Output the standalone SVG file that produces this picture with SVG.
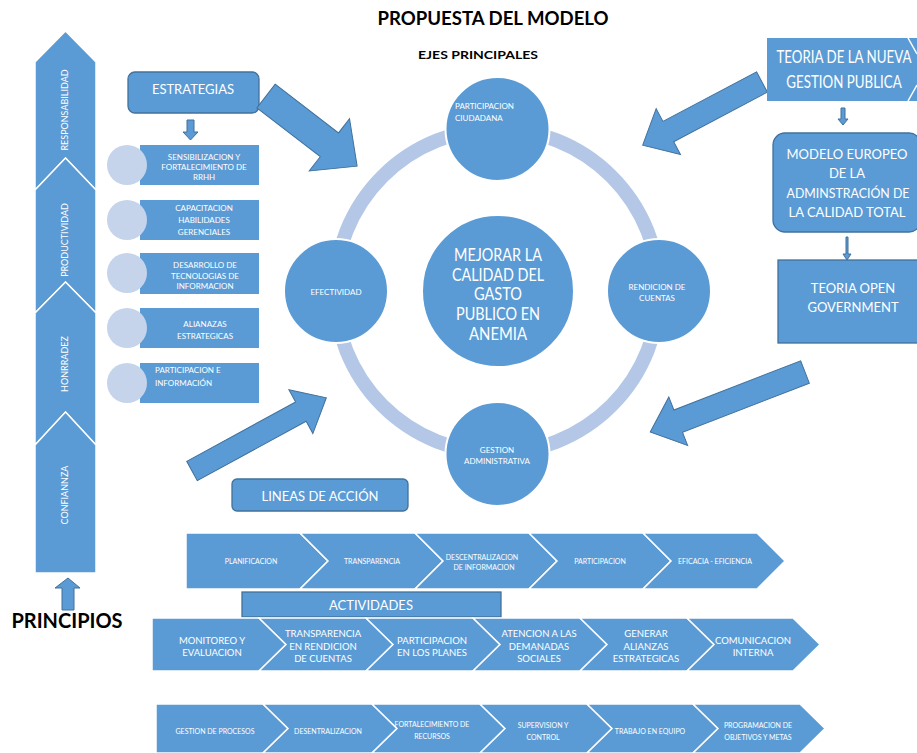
<svg xmlns="http://www.w3.org/2000/svg" width="917" height="753" viewBox="0 0 917 753">
<style>
text{font-family:Lato,"Liberation Sans",sans-serif;fill:#fff;text-anchor:middle}
.blk{fill:#000;font-weight:bold}
.seg{fill:#5b9bd5;stroke:#fff;stroke-width:1.5}
.box{fill:#5b9bd5;stroke:#41719c;stroke-width:1.3}
.plain{fill:#5b9bd5}
.node{fill:#5b9bd5;stroke:#fff;stroke-width:2}
.lc{fill:#c5d4ea}
.arr{fill:#5b9bd5;stroke:#41719c;stroke-width:1}
.s7{font-size:7px}
.s8{font-size:8px}
.s9{font-size:9.5px}
.v{font-size:9px}
</style>
<rect width="917" height="753" fill="#fff"/>
<text x="493" y="25" class="blk" font-size="18" textLength="231" lengthAdjust="spacingAndGlyphs">PROPUESTA DEL MODELO</text>
<text x="478" y="59" class="blk" font-size="12" textLength="120" lengthAdjust="spacingAndGlyphs">EJES PRINCIPALES</text>

<!-- Principles column -->
<g id="responsabilidad"><polygon class="seg" points="65.5,31 96,62 96,190 65.5,158 35,190 35,62"/><text class="v" transform="translate(68,110) rotate(-90)">RESPONSABILIDAD</text></g>
<g id="productividad"><polygon class="seg" points="65.5,158 96,190 96,313 65.5,282 35,313 35,190"/><text class="v" transform="translate(68,240) rotate(-90)">PRODUCTIVIDAD</text></g>
<g id="honrradez"><polygon class="seg" points="65.5,282 96,313 96,445 65.5,412 35,445 35,313"/><text class="v" transform="translate(68,364) rotate(-90)">HONRRADEZ</text></g>
<g id="confiannza"><polygon class="seg" points="65.5,412 96,445 96,573 35,573 35,445"/><text class="v" transform="translate(68,495) rotate(-90)">CONFIANNZA</text></g>
<g id="principios"><polygon class="arr" points="68,578 80,588 74,588 74,610 62,610 62,588 55,588"/><text x="67" y="628" class="blk" font-size="21" textLength="111" lengthAdjust="spacingAndGlyphs">PRINCIPIOS</text></g>

<!-- Estrategias -->
<g id="estrategias"><rect class="box" x="128" y="72" width="131" height="41" rx="7"/><text x="193" y="94" font-size="13">ESTRATEGIAS</text></g>
<g id="est-arrow"><polygon class="arr" points="187,120 194,120 194,132 198,132 190.5,140 183,132 187,132"/></g>
<g id="est1"><rect class="plain" x="140" y="145" width="119" height="40"/><circle class="lc" cx="127" cy="165" r="20"/><text class="s8" x="204" y="160">SENSIBILIZACION Y</text><text class="s8" x="204" y="170">FORTALECIMIENTO DE</text><text class="s8" x="204" y="180">RRHH</text></g>
<g id="est2"><rect class="plain" x="140" y="200" width="119" height="40"/><circle class="lc" cx="127" cy="220" r="20"/><text class="s8" x="204" y="211">CAPACITACION</text><text class="s8" x="204" y="223">HABILIDADES</text><text class="s8" x="204" y="235">GERENCIALES</text></g>
<g id="est3"><rect class="plain" x="140" y="253" width="119" height="41"/><circle class="lc" cx="127" cy="273" r="20"/><text class="s8" x="205" y="268">DESARROLLO DE</text><text class="s8" x="205" y="279">TECNOLOGIAS DE</text><text class="s8" x="205" y="289">INFORMACION</text></g>
<g id="est4"><rect class="plain" x="140" y="308" width="119" height="40"/><circle class="lc" cx="127" cy="328" r="20"/><text class="s8" x="205" y="327">ALIANAZAS</text><text class="s8" x="205" y="339">ESTRATEGICAS</text></g>
<g id="est5"><rect class="plain" x="140" y="363" width="119" height="40"/><circle class="lc" cx="127" cy="383" r="20"/><text class="s8" x="155" y="373" style="text-anchor:start">PARTICIPACION E</text><text class="s8" x="155" y="386" style="text-anchor:start">INFORMACIÓN</text></g>

<!-- Big arrows -->
<g id="connectors">
<polygon class="arr" transform="translate(266,96) rotate(37.6)" points="0,-15 80,-15 80,-33 115,0 80,33 80,15 0,15"/>
<polygon class="arr" transform="translate(192,471) rotate(-28.6)" points="0,-11 124,-11 124,-25 153,0 124,25 124,11 0,11"/>
<polygon class="arr" transform="translate(762,82) rotate(152.1)" points="0,-11.5 106,-11.5 106,-26 135,0 106,26 106,11.5 0,11.5"/>
<polygon class="arr" transform="translate(805,372) rotate(158.8)" points="0,-12 136,-12 136,-26 166,0 136,26 136,12 0,12"/>
</g>

<!-- Cycle -->
<circle cx="497" cy="291" r="162" fill="none" stroke="#b4c7e7" stroke-width="14"/>
<g id="participacion-ciudadana"><circle class="node" cx="497.5" cy="129" r="52"/><text class="s8" x="455" y="109" style="text-anchor:start">PARTICIPACION</text><text class="s8" x="455" y="121" style="text-anchor:start">CIUDADANA</text></g>
<g id="efectividad"><circle class="node" cx="336" cy="291" r="52"/><text class="s8" x="336" y="295">EFECTIVIDAD</text></g>
<g id="rendicion"><circle class="node" cx="659" cy="291" r="52"/><text class="s8" x="657" y="290">RENDICION DE</text><text class="s8" x="657" y="301">CUENTAS</text></g>
<g id="gestion-administrativa"><circle class="node" cx="497.5" cy="454" r="52"/><text class="s8" x="497" y="453">GESTION</text><text class="s8" x="497" y="464">ADMINISTRATIVA</text></g>
<g id="centro"><circle class="node" cx="498" cy="291" r="76"/>
<text font-size="17" x="498" y="261" textLength="88" lengthAdjust="spacingAndGlyphs">MEJORAR LA</text>
<text font-size="17" x="498" y="281" textLength="92" lengthAdjust="spacingAndGlyphs">CALIDAD DEL</text>
<text font-size="17" x="498" y="300" textLength="48" lengthAdjust="spacingAndGlyphs">GASTO</text>
<text font-size="17" x="498" y="320" textLength="84" lengthAdjust="spacingAndGlyphs">PUBLICO EN</text>
<text font-size="17" x="498" y="340" textLength="58" lengthAdjust="spacingAndGlyphs">ANEMIA</text></g>

<!-- Right column -->
<g id="teoria-nueva"><rect class="plain" x="767" y="38" width="150" height="63"/><polyline points="908,38 917,54" fill="none" stroke="#fff" stroke-width="1.5"/><polyline points="917,85 908,101" fill="none" stroke="#fff" stroke-width="1.5"/>
<text font-size="18" transform="translate(844,63) scale(0.74,1)">TEORIA DE LA NUEVA</text>
<text font-size="18" transform="translate(844,88) scale(0.74,1)">GESTION PUBLICA</text></g>
<g id="arrow-r1"><polygon class="arr" points="841,108 845,108 845,119 848,119 843,125 838,119 841,119"/></g>
<g id="modelo-europeo"><rect class="box" x="773" y="133" width="148" height="99" rx="12"/>
<text font-size="13" x="847" y="159">MODELO EUROPEO</text>
<text font-size="13" x="847" y="178">DE LA</text>
<text font-size="13" x="848" y="198" textLength="123" lengthAdjust="spacingAndGlyphs">ADMINSTRACIÓN DE</text>
<text font-size="13" x="847" y="217">LA CALIDAD TOTAL</text></g>
<g id="arrow-r2"><polygon class="arr" points="846,237 848,237 848,254 851,254 847,260 843,254 846,254"/></g>
<g id="teoria-open"><rect class="box" x="778" y="260" width="142" height="83"/>
<text font-size="13" x="853" y="293">TEORIA OPEN</text>
<text font-size="13" x="853" y="312">GOVERNMENT</text></g>

<!-- Lineas de accion -->
<g id="lineas"><rect class="box" x="232" y="479" width="176" height="32" rx="5"/><text font-size="13" x="320" y="501">LINEAS DE ACCIÓN</text></g>
<g id="l1"><polygon class="seg" points="186,533 300,533 328,561 300,589 186,589"/><text class="s7" x="251" y="564">PLANIFICACION</text></g>
<g id="l2"><polygon class="seg" points="300,533 415,533 443,561 415,589 300,589 328,561"/><text class="s7" x="372" y="564">TRANSPARENCIA</text></g>
<g id="l3"><polygon class="seg" points="415,533 529,533 557,561 529,589 415,589 443,561"/><text class="s7" x="482" y="560">DESCENTRALIZACION</text><text class="s7" x="484" y="570">DE INFORMACION</text></g>
<g id="l4"><polygon class="seg" points="529,533 643,533 671,561 643,589 529,589 557,561"/><text class="s7" x="600" y="564">PARTICIPACION</text></g>
<g id="l5"><polygon class="seg" points="643,533 757,533 785,561 757,589 643,589 671,561"/><text class="s7" x="715" y="564">EFICACIA - EFICIENCIA</text></g>

<!-- Actividades -->
<g id="actividades"><rect class="box" x="242" y="592" width="259" height="25"/><text font-size="13" x="371" y="610">ACTIVIDADES</text></g>
<g id="a1"><polygon class="seg" points="152,618 259,618 286,644.5 259,671 152,671"/><text class="s9" x="212" y="644">MONITOREO  Y</text><text class="s9" x="212" y="656">EVALUACION</text></g>
<g id="a2"><polygon class="seg" points="259,618 366,618 393,644.5 366,671 259,671 286,644.5"/><text class="s9" x="323" y="637">TRANSPARENCIA</text><text class="s9" x="323" y="650">EN RENDICION</text><text class="s9" x="323" y="662">DE CUENTAS</text></g>
<g id="a3"><polygon class="seg" points="366,618 473,618 500,644.5 473,671 366,671 393,644.5"/><text class="s9" x="432" y="644">PARTICIPACION</text><text class="s9" x="432" y="656">EN LOS PLANES</text></g>
<g id="a4"><polygon class="seg" points="473,618 580,618 607,644.5 580,671 473,671 500,644.5"/><text class="s9" x="539" y="637">ATENCION  A LAS</text><text class="s9" x="539" y="650">DEMANADAS</text><text class="s9" x="539" y="662">SOCIALES</text></g>
<g id="a5"><polygon class="seg" points="580,618 687,618 714,644.5 687,671 580,671 607,644.5"/><text class="s9" x="646" y="637">GENERAR</text><text class="s9" x="646" y="650">ALIANZAS</text><text class="s9" x="646" y="662">ESTRATEGICAS</text></g>
<g id="a6"><polygon class="seg" points="687,618 793,618 820,644.5 793,671 687,671 714,644.5"/><text class="s9" x="753" y="644">COMUNICACION</text><text class="s9" x="753" y="656">INTERNA</text></g>

<!-- Row 3 -->
<g id="b1"><polygon class="seg" points="156,704 263,704 288,728.5 263,753 156,753"/><text class="s7" x="215" y="734">GESTION DE PROCESOS</text></g>
<g id="b2"><polygon class="seg" points="263,704 372,704 397,728.5 372,753 263,753 288,728.5"/><text class="s7" x="328" y="734">DESENTRALIZACION</text></g>
<g id="b3"><polygon class="seg" points="372,704 480,704 505,728.5 480,753 372,753 397,728.5"/><text class="s7" x="432" y="727">FORTALECIMIENTO DE</text><text class="s7" x="432" y="739">RECURSOS</text></g>
<g id="b4"><polygon class="seg" points="480,704 587,704 612,728.5 587,753 480,753 505,728.5"/><text class="s7" x="543" y="728">SUPERVISION Y</text><text class="s7" x="543" y="740">CONTROL</text></g>
<g id="b5"><polygon class="seg" points="587,704 693,704 718,728.5 693,753 587,753 612,728.5"/><text class="s7" x="650" y="734">TRABAJO  EN EQUIPO</text></g>
<g id="b6"><polygon class="seg" points="693,704 800,704 825,728.5 800,753 693,753 718,728.5"/><text class="s7" x="758" y="728">PROGRAMACION DE</text><text class="s7" x="758" y="740">OBJETIVOS Y METAS</text></g>
</svg>
